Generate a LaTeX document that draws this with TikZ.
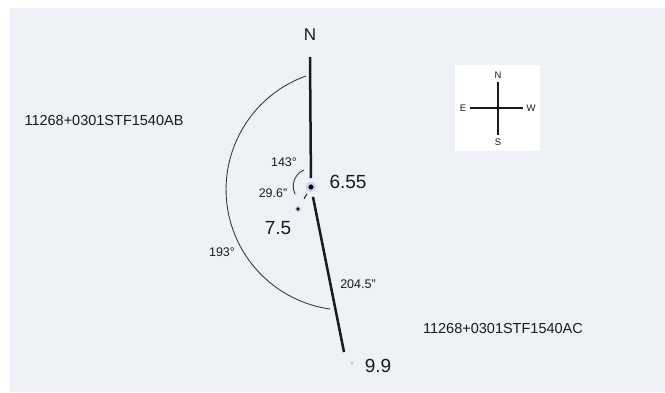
\documentclass[tikz,border=0pt]{standalone}
\usepackage{fontspec}
\setmainfont{Liberation Sans}
\usetikzlibrary{positioning}
\definecolor{bgcol}{HTML}{EEF1F5}
\definecolor{inkcol}{HTML}{1A1A1A}

\begin{document}
\begin{tikzpicture}[x=1pt,y=-1pt,
  lbl/.style={inner sep=0pt,text=inkcol,font=\fontsize{12.5}{14}\selectfont},
  mag/.style={inner sep=0pt,text=inkcol,font=\fontsize{19}{22}\selectfont},
  pair/.style={inner sep=0pt,text=inkcol,font=\fontsize{14.5}{16}\selectfont},
  cmp/.style={inner sep=0pt,outer sep=4pt,text=inkcol,font=\fontsize{9.5}{10}\selectfont},
  starbig/.style={circle,inner sep=0pt,minimum size=8pt,fill=black,
    draw=blue!12!bgcol,line width=2.4pt},
  starsmall/.style={circle,inner sep=0pt,minimum size=5pt,fill=black!90,
    draw=blue!12!bgcol,line width=1.4pt},
  sepline/.style={inkcol,line width=2.5pt},
  angarc/.style={inkcol!85,line width=0.9pt}]

  % frame and background
  \fill[white] (0,0) rectangle (665,392);
  \fill[bgcol] (10,8) rectangle (665,392);
  \useasboundingbox (0,0) rectangle (665,392);

  % the three stars
  \node[starbig] (A) at (311,187) {};
  \node[starsmall] (B) at (298,209) {};
  \node[circle,inner sep=0pt,minimum size=3pt,fill=gray!45] (C) at (352,363) {};

  \node[mag] (magA) at (348,182) {6.55};
  \node[mag] (magB) at (278,228) {7.5};
  \node[mag] (magC) at (378,366) {9.9};

  %% position angle reference and separations
  \node[inner sep=0pt,text=inkcol,font=\fontsize{17}{19}\selectfont] (north) at (310,35) {N};
  \coordinate (ntop) at (310,57);
  \coordinate (cend) at (344,352);
  \draw[sepline] (ntop) -- (A.center) [shorten >=9pt];
  \draw[sepline] (A.center) -- (cend) [shorten <=10pt];
  \draw[inkcol,line width=1pt,shorten <=8pt,shorten >=12pt] (A.center) -- (B.center);

  %% angle arcs
  \draw[angarc] (304,170) arc[start angle=247.6,end angle=152,radius=17.5];
  \draw[angarc] (306,76) arc[start angle=250.3,end angle=97.9,radius=120.6];

  \node[lbl] (angAB) at (284,162) {143°};
  \node[lbl] (sepAB) at (273,193) {29.6"};
  \node[lbl] (angAC) at (222,252) {193°};
  \node[lbl] (sepAC) at (358,284) {204.5"};

  \node[pair] (nameAB) at (104,121) {11268+0301STF1540AB};
  \node[pair] (nameAC) at (503,329) {11268+0301STF1540AC};

  %% compass
  \fill[white] (455,65) rectangle (540,151);
  \node[cmp] (cN) at (498,75) {N};
  \node[cmp] (cS) at (498,142) {S};
  \node[cmp] (cE) at (463,108) {E};
  \node[cmp] (cW) at (531,108) {W};
  \draw[inkcol,line width=1.6pt] (cN) -- (cS);
  \draw[inkcol,line width=1.6pt] (cE) -- (cW);
\end{tikzpicture}
\end{document}
